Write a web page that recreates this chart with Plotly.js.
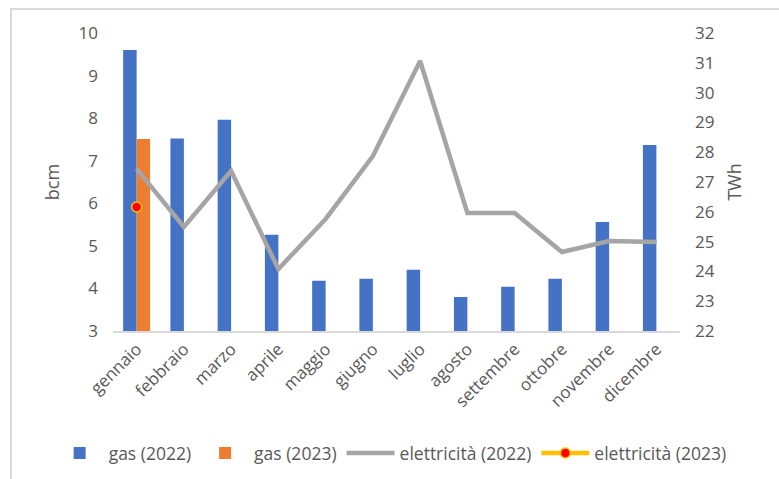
<!DOCTYPE html>
<html>
<head>
<meta charset="utf-8">
<script src="https://cdn.plot.ly/plotly-3.0.1.min.js"></script>
<style>
  html, body { margin: 0; padding: 0; background: #fff; }
  #wrap { position: relative; width: 779px; height: 479px; overflow: hidden; }
  #chart { width: 779px; height: 479px; }
  #frame { position: absolute; left: 10px; top: 8px; width: 800px; height: 500px;
           border-left: 2px solid #d9d9d9; border-top: 2px solid #d9d9d9; pointer-events: none; }
</style>
</head>
<body>
<div id="wrap">
  <div id="chart"></div>
  <div id="frame"></div>
</div>
<script>
const months = ["gennaio","febbraio","marzo","aprile","maggio","giugno","luglio","agosto","settembre","ottobre","novembre","dicembre"];
const gas2022 = [9.60, 7.52, 7.96, 5.26, 4.18, 4.23, 4.44, 3.80, 4.04, 4.23, 5.56, 7.37];
const gas2023 = [7.51, null, null, null, null, null, null, null, null, null, null, null];
const elet2022 = [27.44, 25.49, 27.37, 24.08, 25.76, 27.87, 31.06, 25.96, 25.96, 24.65, 25.02, 24.99];
const elet2023 = [26.16, null, null, null, null, null, null, null, null, null, null, null];
const leftTicks = [3, 4, 5, 6, 7, 8, 9, 10];
const rightTicks = [22, 23, 24, 25, 26, 27, 28, 29, 30, 31, 32];

const FONT = "Open Sans, Noto Sans, sans-serif";
const TXT = "#595959";

const traces = [
  { type: "bar", name: "gas (2022)", x: months, y: gas2022, marker: { color: "#4472C4" }, yaxis: "y" },
  { type: "bar", name: "gas (2023)", x: months, y: gas2023, marker: { color: "#ED7D31" }, yaxis: "y" },
  { type: "scatter", mode: "lines", name: "elettricità (2022)", x: months, y: elet2022,
    line: { color: "#A5A5A5", width: 4.5 }, yaxis: "y2" },
  { type: "scatter", mode: "lines+markers", name: "elettricità (2023)", x: months, y: elet2023,
    line: { color: "#FFC000", width: 4.5 },
    marker: { color: "#FF0000", size: 10, line: { color: "#FFC000", width: 1.5 } }, yaxis: "y2" }
];

const layout = {
  width: 779, height: 479,
  margin: { l: 113, r: 99, t: 33, b: 148, autoexpand: false },
  paper_bgcolor: "#fff", plot_bgcolor: "#fff",
  font: { family: FONT, size: 17, color: TXT },
  barmode: "group", bargap: 0.43, bargroupgap: 0,
  showlegend: true,
  legend: { orientation: "h", x: -0.11, xanchor: "left",
            y: -0.41, yanchor: "middle", itemwidth: 48, tracegroupgap: 0,
            font: { family: FONT, size: 17.5, color: TXT }, traceorder: "normal" },
  xaxis: { type: "category", range: [-0.5, 11.5], showline: true, linecolor: "#d9d9d9", linewidth: 1.5,
           automargin: false, showgrid: false, ticks: "", tickangle: -45,
           tickfont: { family: FONT, size: 17, color: TXT } },
  yaxis: { range: [3, 10], tickvals: leftTicks, showgrid: false, zeroline: false, showline: false,
           automargin: false, ticks: "", ticklabelstandoff: 14, tickfont: { family: FONT, size: 17, color: TXT },
           title: { text: "bcm", font: { family: FONT, size: 18, color: TXT }, standoff: 14 } },
  yaxis2: { range: [22, 32], tickvals: rightTicks, overlaying: "y", side: "right", showgrid: false,
            automargin: false, zeroline: false, showline: false, ticks: "", ticklabelstandoff: 14,
            tickfont: { family: FONT, size: 17, color: TXT },
            title: { text: "TWh", font: { family: FONT, size: 18, color: TXT }, standoff: 14 } }
};

Plotly.newPlot("chart", traces, layout, { displayModeBar: false, staticPlot: true });
</script>
</body>
</html>
